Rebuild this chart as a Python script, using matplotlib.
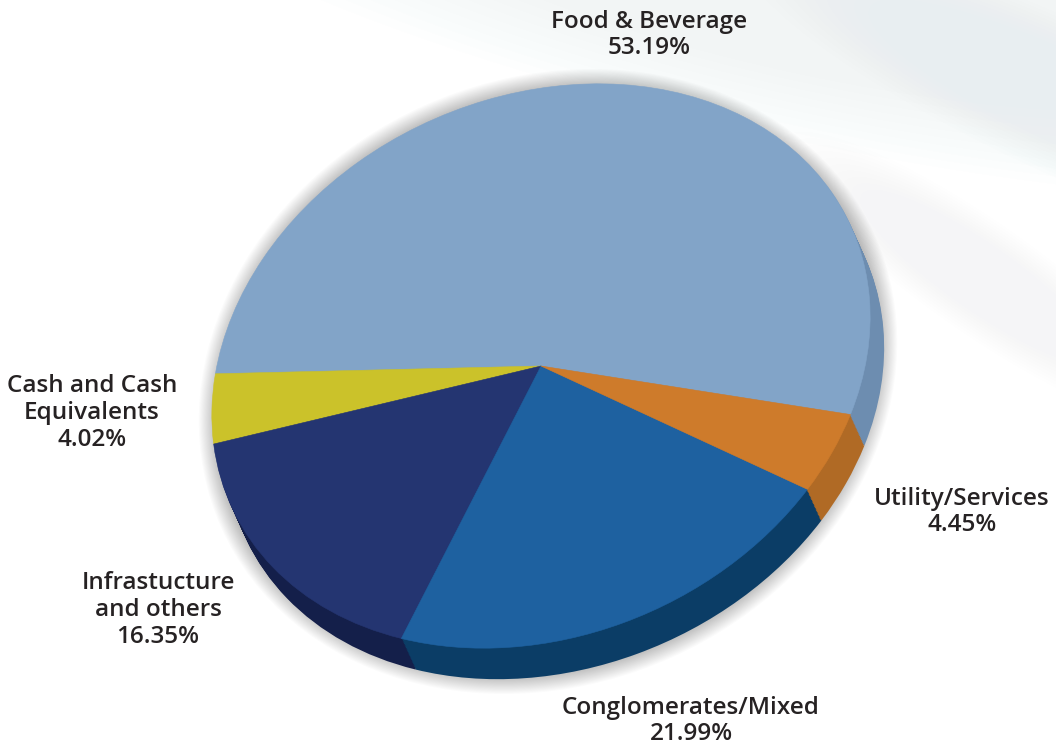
import numpy as np
import matplotlib.pyplot as plt
from matplotlib.patches import Ellipse
from matplotlib.transforms import Affine2D

# portfolio split, counter-clockwise from the right-hand edge
sectors = ["Food & Beverage", "Cash and Cash\nEquivalents", "Infrastucture\nand others",
           "Conglomerates/Mixed", "Utility/Services"]
shares = [53.19, 4.02, 16.35, 21.99, 4.45]
top_colors = ["#82a4c8", "#cbc22a", "#243571", "#1e61a0", "#ce7b2b"]
side_colors = ["#6d8db0", "#a89f1f", "#141f4a", "#0b3d66", "#b06a25"]

# label anchors (pixel coords, y measured from the bottom)
label_xy = [(649, 712), (92, 334), (158, 137), (691, 26), (962, 235)]

W, H = 1056, 747
cx, cy = 541, H - 366          # apex of the pie
a, b, tilt = 340, 269, 24.2    # ellipse semi-axes and tilt of the top face
dx, dy = 14, -31               # depth of the extruded side
start = -39.5

fig = plt.figure(figsize=(W / 100, H / 100), dpi=100)
ax = fig.add_axes([0, 0, 1, 1])
fig.patch.set_facecolor("white")

# faint, blurry background swooshes
swooshes = [((820, 770), 1500, 330, -12, "#e6f1f3"),
            ((1060, 650), 700, 150, -25, "#e2eef1"),
            ((980, 470), 480, 110, -35, "#edf5f7"),
            ((150, -25), 700, 50, 0, "#e8f0f6")]
for (x0, y0), w0, h0, ang, col in swooshes:
    for k in np.linspace(1.0, 0.6, 10):
        ax.add_patch(Ellipse((x0, y0), w0 * k, h0 * k, angle=ang, color=col,
                             alpha=0.05, lw=0))

# soft shadow around the whole disc
for r in np.linspace(18, 0, 18):
    ax.add_patch(Ellipse((cx + dx / 2, cy + dy / 2), 2 * (a + r), 2 * (b + abs(dy) / 2 + r),
                         angle=tilt, color="black", alpha=0.016, lw=0))


def place(wedges, ox, oy):
    tr = Affine2D().scale(a, b).rotate_deg(tilt).translate(cx + ox, cy + oy) + ax.transData
    for w in wedges:
        w.set_transform(tr)


# side of the disc: stacked copies from the bottom up
for t in np.linspace(1, 0, 24)[:-1]:
    ws, _ = ax.pie(shares, colors=side_colors, startangle=start, counterclock=True,
                   wedgeprops=dict(linewidth=0))
    place(ws, dx * t, dy * t)

# top face
ws, _ = ax.pie(shares, colors=top_colors, startangle=start, counterclock=True,
               wedgeprops=dict(linewidth=0.4))
for w, c in zip(ws, top_colors):
    w.set_edgecolor(c)
place(ws, 0, 0)

for name, val, (x, y) in zip(sectors, shares, label_xy):
    ax.text(x, y, f"{name}\n{val:.2f}%", ha="center", va="center",
            fontsize=17.5, family="Open Sans", fontweight="semibold",
            color="#262223", linespacing=1.15)

ax.set_xlim(0, W)
ax.set_ylim(0, H)
ax.set_aspect("auto")
ax.axis("off")

fig.savefig("out.png", dpi=100, facecolor="white")
